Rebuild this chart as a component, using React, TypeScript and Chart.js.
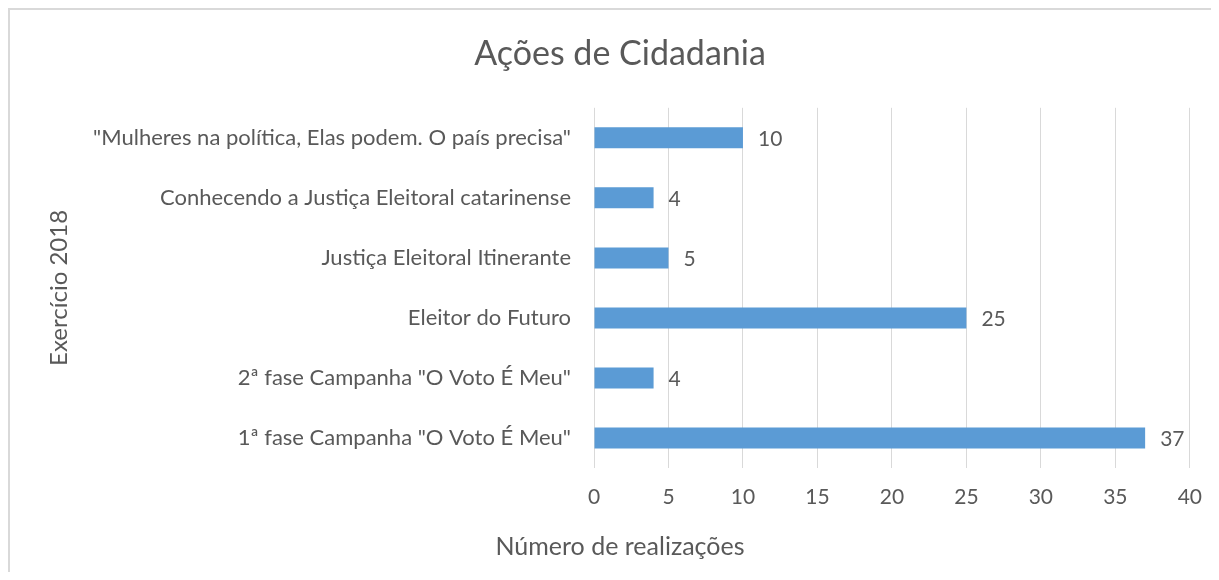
import React, { useEffect, useRef } from "react";
import { Chart, registerables } from "chart.js";

Chart.register(...registerables);

const categories: string[] = [
  '"Mulheres na política, Elas podem. O país precisa"',
  "Conhecendo a Justiça Eleitoral catarinense",
  "Justiça Eleitoral Itinerante",
  "Eleitor do Futuro",
  '2ª fase Campanha "O Voto É Meu"',
  '1ª fase Campanha "O Voto É Meu"',
];
const realizacoes: number[] = [10, 4, 5, 25, 4, 37];
const chartTitle = "Ações de Cidadania";
const yAxisTitle = "Exercício 2018";
const xAxisTitle = "Número de realizações";

const FONT = "Lato, 'Open Sans', sans-serif";
const TEXT = "#595959";

const valueLabels = {
  id: "valueLabels",
  afterDatasetsDraw(chart: any) {
    const ctx = chart.ctx;
    ctx.save();
    ctx.font = `21px ${FONT}`;
    ctx.fillStyle = TEXT;
    ctx.textAlign = "left";
    ctx.textBaseline = "middle";
    chart.data.datasets.forEach((ds: any, di: number) => {
      const meta = chart.getDatasetMeta(di);
      meta.data.forEach((el: any, i: number) => {
        ctx.fillText(String(ds.data[i]), el.x + 15, el.y + 1);
      });
    });
    ctx.restore();
  },
};

export default function App() {
  const ref = useRef<HTMLCanvasElement>(null);
  useEffect(() => {
    if (!ref.current) return;
    const chart = new Chart(ref.current, {
      type: "bar",
      data: {
        labels: categories,
        datasets: [
          {
            data: realizacoes,
            backgroundColor: "#5B9BD5",
            borderWidth: 0,
            categoryPercentage: 1,
            barPercentage: 0.35,
          },
        ],
      },
      options: {
        indexAxis: "y",
        animation: false,
        responsive: false,
        maintainAspectRatio: false,
        layout: { padding: { left: 40, right: 29, top: 0, bottom: 0 } },
        plugins: {
          legend: { display: false },
          tooltip: { enabled: false },
          title: {
            display: true,
            text: chartTitle,
            color: TEXT,
            font: { family: FONT, size: 34, weight: "normal" },
            padding: { top: 24, bottom: 33 },
          },
          subtitle: {
            display: true,
            position: "bottom",
            text: xAxisTitle,
            color: TEXT,
            font: { family: FONT, size: 25, weight: "normal" },
            padding: { top: 22, bottom: 10 },
          },
        },
        scales: {
          x: {
            min: 0,
            max: 40,
            ticks: {
              stepSize: 5,
              color: TEXT,
              font: { family: FONT, size: 21 },
              padding: 17,
            },
            grid: { color: "#d9d9d9", drawTicks: false, lineWidth: 1 },
            border: { display: false },
            afterFit(scale: any) {
              scale.height = 42;
            },
          },
          y: {
            ticks: {
              color: TEXT,
              font: { family: FONT, size: 22 },
              padding: 23,
            },
            grid: { display: false, drawTicks: false },
            border: { display: false },
            title: {
              display: true,
              text: yAxisTitle,
              color: TEXT,
              font: { family: FONT, size: 24 },
              padding: { top: -5, bottom: 0 },
            },
            afterFit(scale: any) {
              scale.width = 544;
            },
          },
        },
      },
      plugins: [valueLabels],
    });
    return () => chart.destroy();
  }, []);
  return (
    <div
      style={{
        boxSizing: "border-box",
        width: 1211,
        height: 564,
        borderTop: "2px solid #d9d9d9",
        borderLeft: "2px solid #d9d9d9",
        background: "#fff",
      }}
    >
      <canvas ref={ref} width={1209} height={562} style={{ display: "block" }} />
    </div>
  );
}
